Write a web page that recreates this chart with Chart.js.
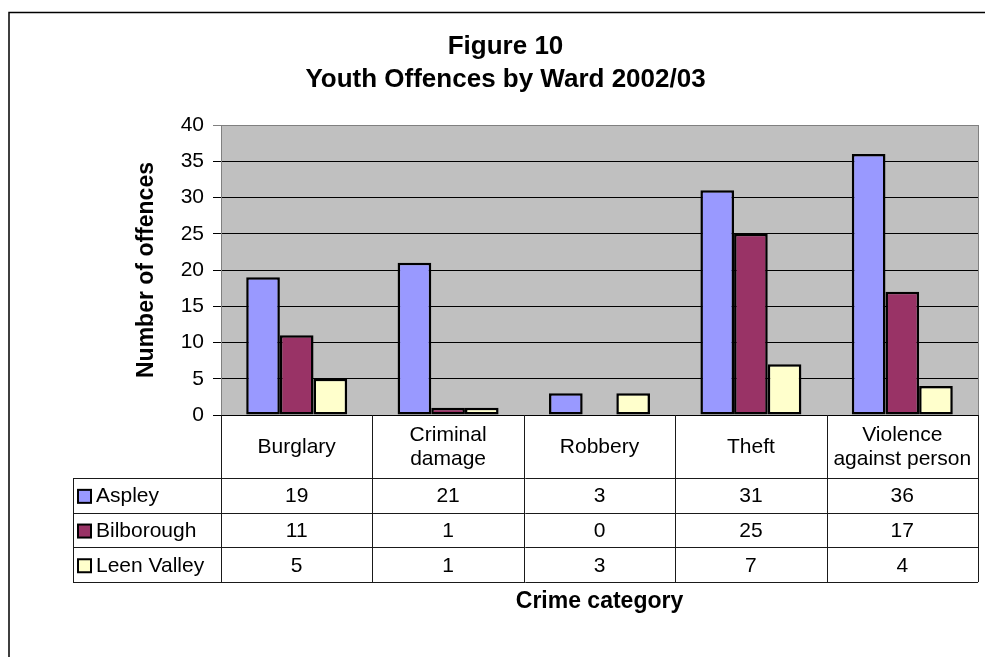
<!DOCTYPE html>
<html>
<head>
<meta charset="utf-8">
<title>Youth Offences by Ward 2002/03</title>
<script src="https://cdn.jsdelivr.net/npm/chart.js@4/dist/chart.umd.min.js"></script>
<style>
  html, body { margin: 0; padding: 0; background: #ffffff; }
  #wrap { width: 985px; height: 657px; }
</style>
</head>
<body>
<div id="wrap"><canvas id="chart" width="985" height="657"></canvas></div>
<script>
// Crime categories (multi-line labels are shown in the data table header)
const categories = ['Burglary', ['Criminal', 'damage'], 'Robbery', 'Theft', ['Violence', 'against person']];

// Offences per ward
const aspley = [19, 21, 3, 31, 36];
const bilborough = [11, 1, 0, 25, 17];
const leenValley = [5, 1, 3, 7, 4];

const wardNames = ['Aspley', 'Bilborough', 'Leen Valley'];
const wardColours = ['#9999FF', '#993366', '#FFFFCC'];

const yTicks = [0, 5, 10, 15, 20, 25, 30, 35, 40];

const FONT = "'Liberation Sans', Arial, Helvetica, sans-serif";
Chart.defaults.font.family = FONT;
Chart.defaults.color = '#000000';

// White page, grey plot area and the outer frame lines
const backdrop = {
  id: 'backdrop',
  beforeDraw(chart) {
    const { ctx, chartArea: a } = chart;
    ctx.save();
    ctx.fillStyle = '#ffffff';
    ctx.fillRect(0, 0, chart.width, chart.height);
    ctx.fillStyle = '#C0C0C0';
    ctx.fillRect(a.left, a.top, a.right - a.left, a.bottom - a.top);
    ctx.strokeStyle = '#000000';
    ctx.lineWidth = 1.5;
    ctx.beginPath();
    ctx.moveTo(9, chart.height);
    ctx.lineTo(9, 12.5);
    ctx.lineTo(chart.width, 12.5);
    ctx.stroke();
    ctx.restore();
  }
};

// Data table under the category axis, positioned from the x scale
const dataTable = {
  id: 'dataTable',
  afterDraw(chart) {
    const { ctx, chartArea: a } = chart;
    const x = chart.scales.x;
    const n = categories.length;
    const colW = (a.right - a.left) / n;
    const headTop = a.bottom;
    const headBottom = headTop + 63;
    const rowH = 34.7;
    const tableLeft = 73;
    const tableBottom = headBottom + rowH * wardNames.length;

    ctx.save();
    ctx.strokeStyle = '#1a1a1a';
    ctx.lineWidth = 1;

    // vertical rules
    for (let i = 0; i <= n; i++) {
      const vx = Math.round(a.left + i * colW) + 0.5;
      ctx.beginPath();
      ctx.moveTo(vx, headTop);
      ctx.lineTo(vx, tableBottom);
      ctx.stroke();
    }
    ctx.beginPath();
    ctx.moveTo(tableLeft + 0.5, headBottom);
    ctx.lineTo(tableLeft + 0.5, tableBottom);
    ctx.stroke();

    // horizontal rules
    for (let r = 0; r <= wardNames.length; r++) {
      const hy = Math.round(headBottom + r * rowH) + 0.5;
      ctx.beginPath();
      ctx.moveTo(tableLeft, hy);
      ctx.lineTo(a.right, hy);
      ctx.stroke();
    }

    // header labels
    ctx.fillStyle = '#000000';
    ctx.font = '21px ' + FONT;
    ctx.textAlign = 'center';
    ctx.textBaseline = 'middle';
    const headMid = (headTop + headBottom) / 2 + 1;
    categories.forEach((c, i) => {
      const cx = x.getPixelForValue(i);
      const lines = Array.isArray(c) ? c : [c];
      const lh = 24;
      lines.forEach((t, k) => {
        ctx.fillText(t, cx, headMid + (k - (lines.length - 1) / 2) * lh);
      });
    });

    // value rows with legend keys
    chart.data.datasets.forEach((ds, r) => {
      const cy = headBottom + r * rowH + rowH / 2 + 1;
      ctx.fillStyle = ds.backgroundColor;
      ctx.fillRect(78, cy - 6.5, 13, 13);
      ctx.strokeStyle = '#000000';
      ctx.lineWidth = 2;
      ctx.strokeRect(78, cy - 6.5, 13, 13);

      ctx.fillStyle = '#000000';
      ctx.textAlign = 'left';
      ctx.fillText(ds.label, 96, cy);
      ctx.textAlign = 'center';
      ds.data.forEach((v, i) => {
        ctx.fillText(String(v), x.getPixelForValue(i), cy);
      });
    });
    ctx.restore();
  }
};

const seriesValues = [aspley, bilborough, leenValley];

new Chart(document.getElementById('chart'), {
  type: 'bar',
  data: {
    labels: categories,
    datasets: seriesValues.map((vals, i) => ({
      label: wardNames[i],
      data: vals,
      backgroundColor: wardColours[i],
      borderColor: '#000000',
      borderWidth: 2.5,
      borderSkipped: false,
      categoryPercentage: 0.667,
      barPercentage: 1.0
    }))
  },
  options: {
    responsive: false,
    animation: false,
    devicePixelRatio: 1,
    layout: { padding: { left: 26, right: 0, top: 0, bottom: 0 } },
    plugins: {
      legend: { display: false },
      tooltip: { enabled: false },
      title: {
        display: true,
        text: ['Figure 10', 'Youth Offences by Ward 2002/03'],
        font: { size: 26, weight: 'bold', lineHeight: 1.27 },
        color: '#000000',
        padding: { top: 30.5, bottom: 28.5 }
      }
    },
    scales: {
      x: {
        position: 'bottom',
        grid: { display: false },
        border: { display: false },
        ticks: { display: false },
        title: {
          display: true,
          text: 'Crime category',
          font: { size: 23, weight: 'bold', lineHeight: 1.2 },
          color: '#000000',
          padding: { top: 0, bottom: 41.2 }
        },
        afterFit(scale) { scale.height = 242; }
      },
      y: {
        position: 'left',
        min: 0,
        max: 40,
        afterBuildTicks(scale) { scale.ticks = yTicks.map(v => ({ value: v })); },
        ticks: {
          font: { size: 21 },
          color: '#000000',
          padding: 9
        },
        grid: {
          color: ctx => (ctx.tick && ctx.tick.value === 40 ? '#808080' : '#000000'),
          lineWidth: 1,
          tickLength: 8,
          drawTicks: true
        },
        border: { display: true, color: '#808080', width: 1 },
        title: {
          display: true,
          text: 'Number of offences',
          font: { size: 23, weight: 'bold', lineHeight: 1.2 },
          color: '#000000',
          padding: { top: 107, bottom: 0 }
        },
        afterFit(scale) { scale.width = 195; }
      },
      yRight: {
        type: 'linear',
        position: 'right',
        grid: { display: false },
        ticks: { display: false },
        border: { display: true, color: '#808080', width: 1 },
        afterFit(scale) { scale.width = 7; }
      }
    }
  },
  plugins: [backdrop, dataTable]
});
</script>
</body>
</html>
